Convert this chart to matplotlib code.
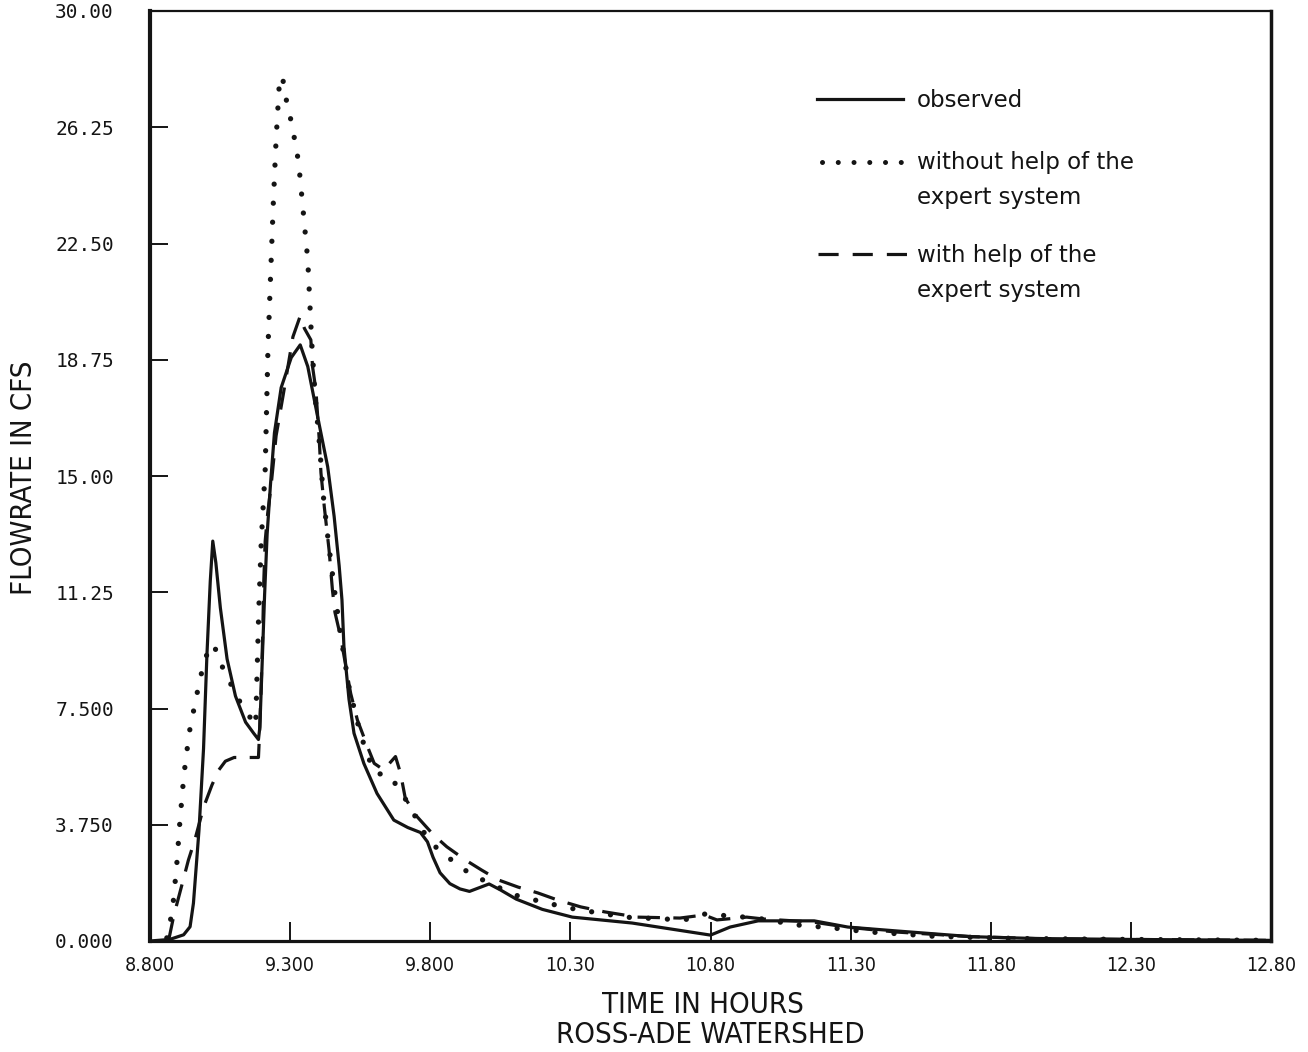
import matplotlib
matplotlib.use("Agg")
import matplotlib.pyplot as plt
from matplotlib.lines import Line2D
from matplotlib import font_manager as fm

# ---------------- data ----------------
time_observed = [8.80, 8.87, 8.92, 8.943, 8.955, 8.964, 8.975, 8.991, 9.003, 9.015,
                 9.024, 9.035, 9.051, 9.075, 9.105, 9.141, 9.170, 9.187, 9.192, 9.200,
                 9.209, 9.218, 9.230, 9.244, 9.268, 9.304, 9.336, 9.363, 9.398, 9.434,
                 9.457, 9.475, 9.485, 9.492, 9.510, 9.528, 9.563, 9.610, 9.670, 9.720,
                 9.765, 9.790, 9.810, 9.835, 9.870, 9.906, 9.940, 9.975, 10.010, 10.050,
                 10.107, 10.200, 10.307, 10.520, 10.800, 10.870, 10.970, 11.170, 11.290, 11.470,
                 11.730, 11.960, 12.300, 12.800]
flow_observed = [0.0, 0.05, 0.2, 0.46, 1.22, 2.29, 3.6, 6.2, 9.2, 11.6,
                 12.9, 12.2, 10.75, 9.1, 7.9, 7.06, 6.7, 6.5, 6.9, 8.9,
                 11.19, 13.13, 14.74, 16.39, 17.85, 18.82, 19.23, 18.53, 16.92, 15.3,
                 13.7, 12.1, 11.0, 9.5, 7.8, 6.7, 5.73, 4.76, 3.9, 3.66,
                 3.5, 3.2, 2.7, 2.2, 1.85, 1.68, 1.6, 1.72, 1.84, 1.65,
                 1.35, 1.02, 0.77, 0.58, 0.19, 0.45, 0.65, 0.65, 0.45, 0.32,
                 0.14, 0.08, 0.05, 0.02]

time_without = [8.860, 8.872, 8.884, 8.896, 8.907, 8.921, 8.940, 8.967, 8.990, 9.015,
                9.030, 9.053, 9.087, 9.123, 9.156, 9.177, 9.188, 9.197, 9.211, 9.221,
                9.230, 9.240, 9.250, 9.262, 9.272, 9.289, 9.306, 9.330, 9.344, 9.363,
                9.377, 9.390, 9.405, 9.418, 9.436, 9.460, 9.483, 9.510, 9.550, 9.580,
                9.605, 9.652, 9.690, 9.730, 9.770, 9.810, 9.841, 9.897, 9.950, 10.025,
                10.103, 10.174, 10.262, 10.333, 10.408, 10.493, 10.706, 10.780, 10.965, 11.106,
                11.238, 11.365, 11.426, 11.600, 11.900, 12.300, 12.800]
flow_without = [0.10, 0.60, 1.34, 2.53, 3.90, 5.36, 6.72, 7.95, 8.90, 9.56,
                9.50, 8.94, 8.31, 7.68, 7.23, 6.94, 10.63, 12.90, 15.20, 19.15,
                21.40, 23.80, 25.87, 27.75, 27.90, 27.00, 26.36, 25.14, 23.80, 21.96,
                19.33, 17.50, 16.00, 14.40, 12.90, 11.20, 9.71, 8.20, 6.70, 5.90,
                5.41, 5.35, 4.90, 4.30, 3.60, 3.10, 2.88, 2.45, 2.13, 1.81,
                1.48, 1.32, 1.13, 1.00, 0.90, 0.77, 0.68, 0.87, 0.74, 0.52,
                0.42, 0.29, 0.26, 0.15, 0.08, 0.05, 0.02]

time_with = [8.866, 8.884, 8.901, 8.920, 8.937, 8.960, 8.991, 9.021, 9.045, 9.069,
             9.100, 9.187, 9.190, 9.196, 9.202, 9.206, 9.211, 9.220, 9.233, 9.250,
             9.275, 9.310, 9.336, 9.351, 9.374, 9.380, 9.392, 9.404, 9.410, 9.422,
             9.439, 9.451, 9.460, 9.480, 9.516, 9.540, 9.576, 9.600, 9.634, 9.676,
             9.694, 9.711, 9.753, 9.812, 9.859, 9.926, 9.983, 10.043, 10.113, 10.184,
             10.255, 10.337, 10.422, 10.539, 10.691, 10.777, 10.823, 10.929, 10.989, 11.167,
             11.284, 11.461, 11.730, 11.960, 12.300, 12.800]
flow_with = [0.0, 0.78, 1.37, 2.02, 2.61, 3.26, 4.31, 5.03, 5.51, 5.80,
             5.92, 5.92, 6.52, 8.0, 9.8, 11.6, 12.9, 13.8, 14.77, 16.3,
             17.6, 19.49, 20.16, 19.76, 19.39, 18.53, 17.77, 16.16, 15.1, 14.0,
             12.61, 11.32, 10.6, 9.82, 7.99, 7.13, 6.27, 5.73, 5.52, 5.95,
             5.41, 4.6, 4.01, 3.42, 3.04, 2.61, 2.29, 1.97, 1.74, 1.55,
             1.32, 1.10, 0.94, 0.77, 0.74, 0.84, 0.68, 0.77, 0.71, 0.61,
             0.45, 0.29, 0.14, 0.08, 0.05, 0.02]

x_ticks = [8.8, 9.3, 9.8, 10.3, 10.8, 11.3, 11.8, 12.3, 12.8]
x_tick_labels = ["8.800", "9.300", "9.800", "10.30", "10.80", "11.30", "11.80", "12.30", "12.80"]
y_ticks = [0.0, 3.75, 7.5, 11.25, 15.0, 18.75, 22.5, 26.25, 30.0]
y_tick_labels = ["0.000", "3.750", "7.500", "11.25", "15.00", "18.75", "22.50", "26.25", "30.00"]

legend_labels = ["observed", ["without help of the", "expert system"], ["with help of the", "expert system"]]

# ---------------- fonts: pick a condensed sans if one is installed ----------------
installed = {f.name: f for f in fm.fontManager.ttflist}
cond_props = None
for f in fm.fontManager.ttflist:
    if f.stretch in ("condensed", "semi-condensed", "extra-condensed", 550, 500) \
            or "Narrow" in f.name or "Condensed" in f.name:
        if f.style == "normal" and f.weight in (400, "normal", "regular", "book"):
            cond_props = fm.FontProperties(fname=f.fname)
            break
narrow_is_real = cond_props is not None
if cond_props is None:
    cond_props = fm.FontProperties(family=["Roboto", "DejaVu Sans"])

INK = "#141414"
W, H = 1308, 1052

fig = plt.figure(figsize=(W / 100, H / 100), dpi=100)
fig.patch.set_facecolor("white")
ax = fig.add_axes([150 / W, 1 - 941 / H, 1121 / W, 930 / H])

ax.plot(time_observed, flow_observed, color=INK, lw=2.3, solid_joinstyle="round",
        solid_capstyle="round")
ax.plot(time_without, flow_without, color=INK, lw=3.8,
        linestyle=(0, (0.01, 3.6)), dash_capstyle="round")
ax.plot(time_with, flow_with, color=INK, lw=2.3,
        linestyle=(0, (7.0, 4.2)), dash_capstyle="butt")

ax.set_xlim(8.8, 12.8)
ax.set_ylim(0, 30)

tick_fs = 14 if narrow_is_real else 12.5
label_fs = 21 if narrow_is_real else 18

ax.set_xticks(x_ticks)
ax.set_xticklabels(x_tick_labels, fontproperties=cond_props, color=INK)
for t in ax.get_xticklabels():
    t.set_fontsize(tick_fs)
ax.set_yticks(y_ticks)
ax.set_yticklabels(y_tick_labels, fontsize=14, family="DejaVu Sans Mono", color=INK)
ax.tick_params(axis="x", direction="in", length=14, width=1.4, pad=11, color=INK)
ax.tick_params(axis="y", direction="in", length=13, width=1.4, pad=26, color=INK)

for side, lw in (("left", 3.0), ("bottom", 2.3), ("right", 2.5), ("top", 1.6)):
    ax.spines[side].set_linewidth(lw)
    ax.spines[side].set_color(INK)

# axis titles
t1 = fig.text(24 / W, 1 - 478 / H, "FLOWRATE IN CFS", rotation=90, ha="center", va="center",
              fontproperties=cond_props, color=INK)
t2 = fig.text(703 / W, 1 - 1013 / H, "TIME IN HOURS", ha="center", va="baseline",
              fontproperties=cond_props, color=INK)
t3 = fig.text(710 / W, 1 - 1043 / H, "ROSS-ADE WATERSHED", ha="center", va="baseline",
              fontproperties=cond_props, color=INK)
for t in (t1, t2, t3):
    t.set_fontsize(label_fs)

# legend (drawn in axes-fraction coordinates)
def fx(px):
    return (px - 150) / 1121

def fy(py):
    return (941 - py) / 930

ax.add_line(Line2D([fx(817), fx(903)], [fy(99), fy(99)], transform=ax.transAxes,
                   color=INK, lw=2.3))
ax.add_line(Line2D([fx(822), fx(901)], [fy(162), fy(162)], transform=ax.transAxes,
                   color=INK, lw=3.6, linestyle=(0, (0.01, 3.14)), dash_capstyle="round"))
ax.add_line(Line2D([fx(818), fx(907)], [fy(254), fy(254)], transform=ax.transAxes,
                   color=INK, lw=2.3, linestyle=(0, (6.3, 4.4)), dash_capstyle="butt"))

tkw = dict(transform=ax.transAxes, fontsize=16.5, family="DejaVu Sans", color=INK,
           ha="left", va="baseline")
ax.text(fx(917), fy(107), legend_labels[0], **tkw)
ax.text(fx(917), fy(169), legend_labels[1][0], **tkw)
ax.text(fx(917), fy(204), legend_labels[1][1], **tkw)
ax.text(fx(917), fy(262), legend_labels[2][0], **tkw)
ax.text(fx(917), fy(297), legend_labels[2][1], **tkw)

fig.savefig("out.png", dpi=100, facecolor="white")
